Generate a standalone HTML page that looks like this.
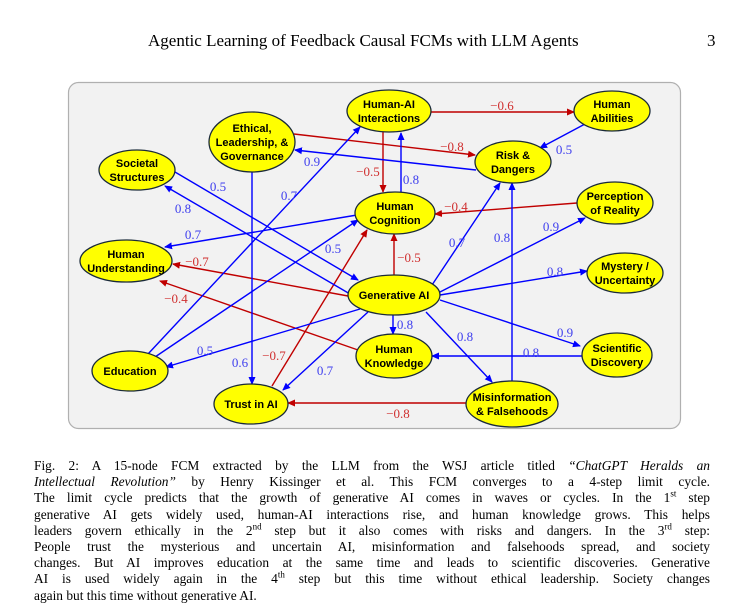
<!DOCTYPE html>
<html><head><meta charset="utf-8"><style>
body{margin:0;width:738px;height:611px;background:#fff;position:relative;overflow:hidden;font-family:"Liberation Serif",serif;}
.hdr{position:absolute;top:31px;left:148px;font-size:17px;}
.pg{position:absolute;top:31px;left:707px;font-size:17px;}
.cap{position:absolute;left:34px;top:458px;width:676px;font-size:13.4px;line-height:16.2px;}
.cap div{text-align:justify;text-align-last:justify;white-space:nowrap;}
.cap div.l{text-align-last:left;}
sup{font-size:9px;line-height:0;}
</style></head><body>
<div class="hdr">Agentic Learning of Feedback Causal FCMs with LLM Agents</div>
<div class="pg">3</div>
<svg width="738" height="611" style="position:absolute;left:0;top:0">
<defs>
<marker id="b" markerWidth="8" markerHeight="8" refX="7" refY="4" orient="auto" markerUnits="userSpaceOnUse"><path d="M0,0.5 L8,4 L0,7.5z" fill="#0000ff"/></marker>
<marker id="r" markerWidth="8" markerHeight="8" refX="7" refY="4" orient="auto" markerUnits="userSpaceOnUse"><path d="M0,0.5 L8,4 L0,7.5z" fill="#c00000"/></marker>
</defs>
<rect x="68.5" y="82.5" width="612" height="346" rx="10" fill="#f2f2f2" stroke="#b0b0b0" stroke-width="1.2"/>
<g stroke-width="1.4" fill="none">
<g stroke="#c00000" marker-end="url(#r)">
<line x1="431" y1="112" x2="574" y2="112"/>
<line x1="294" y1="134" x2="475" y2="155"/>
<line x1="383" y1="132" x2="383" y2="192"/>
<line x1="577" y1="203" x2="435" y2="214"/>
<line x1="272" y1="386" x2="367" y2="230"/>
<line x1="348" y1="296" x2="173" y2="264"/>
<line x1="358" y1="350" x2="160" y2="281"/>
<line x1="394" y1="275" x2="394" y2="234"/>
<line x1="466" y1="403" x2="288" y2="403"/>
</g>
<g stroke="#0000ff" marker-end="url(#b)">
<line x1="476" y1="170" x2="295" y2="150"/>
<line x1="401" y1="192" x2="401" y2="133"/>
<line x1="585" y1="124" x2="540" y2="148"/>
<line x1="357" y1="215" x2="165" y2="247"/>
<line x1="175" y1="172" x2="358" y2="280"/>
<line x1="350" y1="294" x2="165" y2="186"/>
<line x1="148" y1="354" x2="360" y2="127"/>
<line x1="155" y1="357" x2="358" y2="220"/>
<line x1="252" y1="172" x2="252" y2="384"/>
<line x1="432" y1="285" x2="500" y2="183"/>
<line x1="440" y1="292" x2="585" y2="218"/>
<line x1="440" y1="295" x2="587" y2="271"/>
<line x1="393" y1="315" x2="393" y2="334"/>
<line x1="426" y1="312" x2="492" y2="382"/>
<line x1="440" y1="300" x2="580" y2="346"/>
<line x1="360" y1="309" x2="166" y2="367"/>
<line x1="368" y1="312" x2="283" y2="390"/>
<line x1="582" y1="356" x2="432" y2="356"/>
<line x1="512" y1="381" x2="512" y2="183"/>
</g>
</g>
<g font-family="Liberation Serif, serif" font-size="13" text-anchor="middle">
<g fill="#d03030">
<text x="502" y="110">−0.6</text><text x="452" y="151">−0.8</text><text x="368" y="176">−0.5</text>
<text x="456" y="211">−0.4</text><text x="274" y="360">−0.7</text><text x="197" y="266">−0.7</text>
<text x="176" y="303">−0.4</text><text x="409" y="262">−0.5</text><text x="398" y="418">−0.8</text>
</g>
<g fill="#4040ee">
<text x="312" y="166">0.9</text><text x="411" y="184">0.8</text><text x="564" y="154">0.5</text>
<text x="193" y="239">0.7</text><text x="218" y="191">0.5</text><text x="183" y="213">0.8</text>
<text x="289" y="200">0.7</text><text x="333" y="253">0.5</text><text x="240" y="367">0.6</text>
<text x="457" y="247">0.7</text><text x="551" y="231">0.9</text><text x="555" y="276">0.8</text>
<text x="405" y="329">0.8</text><text x="465" y="341">0.8</text><text x="565" y="337">0.9</text>
<text x="205" y="355">0.5</text><text x="325" y="375">0.7</text><text x="531" y="357">0.8</text>
<text x="502" y="242">0.8</text>
</g>
</g>
<g fill="#ffff00" stroke="#1a2a3a" stroke-width="1.3">
<ellipse cx="389" cy="111" rx="42" ry="21"/><ellipse cx="612" cy="111" rx="38" ry="20"/>
<ellipse cx="252" cy="142" rx="43" ry="30"/><ellipse cx="513" cy="162" rx="38" ry="21"/>
<ellipse cx="137" cy="170" rx="38" ry="20"/><ellipse cx="395" cy="213" rx="40" ry="21"/>
<ellipse cx="615" cy="203" rx="38" ry="21"/><ellipse cx="126" cy="261" rx="46" ry="21"/>
<ellipse cx="394" cy="295" rx="46" ry="20"/><ellipse cx="625" cy="273" rx="38" ry="20"/>
<ellipse cx="394" cy="356" rx="38" ry="22"/><ellipse cx="617" cy="355" rx="35" ry="22"/>
<ellipse cx="130" cy="371" rx="38" ry="20"/><ellipse cx="251" cy="404" rx="37" ry="20"/>
<ellipse cx="512" cy="404" rx="46" ry="23"/>
</g>
<g font-family="Liberation Sans, sans-serif" font-size="11" font-weight="bold" text-anchor="middle" fill="#000">
<text x="389" y="108">Human-AI</text><text x="389" y="122">Interactions</text>
<text x="612" y="108">Human</text><text x="612" y="122">Abilities</text>
<text x="252" y="132">Ethical,</text><text x="252" y="146">Leadership, &amp;</text><text x="252" y="160">Governance</text>
<text x="513" y="159">Risk &amp;</text><text x="513" y="173">Dangers</text>
<text x="137" y="167">Societal</text><text x="137" y="181">Structures</text>
<text x="395" y="210">Human</text><text x="395" y="224">Cognition</text>
<text x="615" y="200">Perception</text><text x="615" y="214">of Reality</text>
<text x="126" y="258">Human</text><text x="126" y="272">Understanding</text>
<text x="394" y="299">Generative AI</text>
<text x="625" y="270">Mystery /</text><text x="625" y="284">Uncertainty</text>
<text x="394" y="353">Human</text><text x="394" y="367">Knowledge</text>
<text x="617" y="352">Scientific</text><text x="617" y="366">Discovery</text>
<text x="130" y="375">Education</text>
<text x="251" y="408">Trust in AI</text>
<text x="512" y="401">Misinformation</text><text x="512" y="415">&amp; Falsehoods</text>
</g>
</svg>
<div class="cap">
<div>Fig. 2: A 15-node FCM extracted by the LLM from the WSJ article titled <i>“ChatGPT Heralds an</i></div>
<div><i>Intellectual Revolution”</i> by Henry Kissinger et al. This FCM converges to a 4-step limit cycle.</div>
<div>The limit cycle predicts that the growth of generative AI comes in waves or cycles. In the 1<sup>st</sup> step</div>
<div>generative AI gets widely used, human-AI interactions rise, and human knowledge grows. This helps</div>
<div>leaders govern ethically in the 2<sup>nd</sup> step but it also comes with risks and dangers. In the 3<sup>rd</sup> step:</div>
<div>People trust the mysterious and uncertain AI, misinformation and falsehoods spread, and society</div>
<div>changes. But AI improves education at the same time and leads to scientific discoveries. Generative</div>
<div>AI is used widely again in the 4<sup>th</sup> step but this time without ethical leadership. Society changes</div>
<div class="l">again but this time without generative AI.</div>
</div>
</body></html>
